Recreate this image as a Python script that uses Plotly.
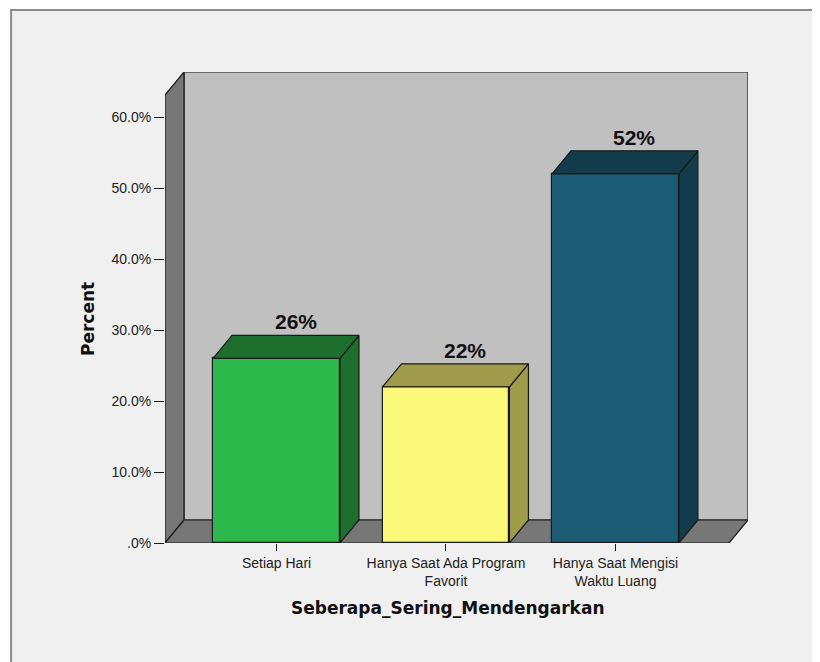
import plotly.graph_objects as go

# data
categories = ["Setiap Hari", "Hanya Saat Ada Program<br>Favorit", "Hanya Saat Mengisi<br>Waktu Luang"]
percent = [26, 22, 52]
value_labels = ["26%", "22%", "52%"]
y_tick_vals = [0, 10, 20, 30, 40, 50, 60]
y_tick_text = [".0%", "10.0%", "20.0%", "30.0%", "40.0%", "50.0%", "60.0%"]

front_colors = ["#2db84b", "#fbf87a", "#1c5d75"]
shade_colors = ["#1e6e2e", "#9f9b4a", "#123c4a"]

# 3d geometry (axis units)
X_LEFT, X_RIGHT = -0.658, 2.782
Y_TOP = 66.34
DX, DY = 0.112, 3.24
BAR_W = 0.749
EDGE = "#1a1a1a"
TITLE_FONT = dict(family="DejaVu Sans", size=17, color="#111111", weight="bold")

xs = list(range(len(categories)))


def path(pts):
    return "M " + " L ".join(f"{x},{y}" for x, y in pts) + " Z"


fig = go.Figure()

# walls and floor
wall_shapes = [
    dict(pts=[(X_LEFT + DX, DY), (X_RIGHT, DY), (X_RIGHT, Y_TOP), (X_LEFT + DX, Y_TOP)], fill="#c0c0c0"),
    dict(pts=[(X_LEFT, 0), (X_LEFT, Y_TOP - DY), (X_LEFT + DX, Y_TOP), (X_LEFT + DX, DY)], fill="#777777"),
    dict(pts=[(X_LEFT, 0), (X_RIGHT - DX, 0), (X_RIGHT, DY), (X_LEFT + DX, DY)], fill="#777777"),
]
for w in wall_shapes:
    fig.add_shape(type="path", path=path(w["pts"]), xref="x", yref="y",
                  fillcolor=w["fill"], line=dict(color=EDGE, width=1.2), layer="below")

# outer frame
fig.add_shape(type="rect", xref="paper", yref="paper", x0=-0.264, x1=1.3, y0=-0.5, y1=1.1316,
              fillcolor="#f0f0f0", line=dict(color="#8c8c8c", width=2), layer="below")

# bar sides and tops
for x, v, c in zip(xs, percent, shade_colors):
    r = x + BAR_W / 2
    l = x - BAR_W / 2
    side = [(r, 0), (r, v), (r + DX, v + DY), (r + DX, DY), (r, 0)]
    top = [(l, v), (r, v), (r + DX, v + DY), (l + DX, v + DY), (l, v)]
    for poly in (side, top):
        fig.add_trace(go.Scatter(
            x=[p[0] for p in poly], y=[p[1] for p in poly],
            mode="lines", fill="toself", fillcolor=c,
            line=dict(color=EDGE, width=1.2), hoverinfo="skip", showlegend=False,
        ))

# bar fronts
fig.add_trace(go.Bar(
    x=xs, y=percent, width=BAR_W,
    marker=dict(color=front_colors, line=dict(color=EDGE, width=1.2)),
    hoverinfo="skip", showlegend=False,
))

for x, v, t in zip(xs, percent, value_labels):
    fig.add_annotation(x=x + DX, y=v + DY, text=t, showarrow=False, yanchor="bottom", yshift=0,
                       font=dict(family="Liberation Sans", size=21, color="#111111", weight="bold"))

# axis titles, centred on the front edges like the original
fig.add_annotation(x=(X_LEFT + X_RIGHT - DX) / 2, xref="x", y=-0.138, yref="paper",
                   text="Seberapa_Sering_Mendengarkan", showarrow=False, yanchor="middle",
                   font=TITLE_FONT)
fig.add_annotation(x=-0.132, xref="paper", y=(Y_TOP - DY) / 2, yref="y",
                   text="Percent", showarrow=False, textangle=-90,
                   xanchor="center", yanchor="middle", font=TITLE_FONT)

fig.update_xaxes(
    range=[X_LEFT, X_RIGHT], tickvals=xs, ticktext=categories,
    ticks="outside", ticklen=7, tickcolor=EDGE, showgrid=False, zeroline=False, showline=False,
    tickfont=dict(family="Liberation Sans", size=14, color="#222222"),
)
fig.update_yaxes(
    range=[0, Y_TOP], tickvals=y_tick_vals, ticktext=y_tick_text,
    ticks="outside", ticklen=10, tickcolor=EDGE, showgrid=False, zeroline=False, showline=False,
    tickfont=dict(family="Liberation Sans", size=14, color="#222222"),
)
# page body adds an 8px offset, so margins are shifted to compensate
fig.update_layout(
    width=820, height=662,
    margin=dict(l=157, r=80, t=64, b=127, autoexpand=False),
    paper_bgcolor="white", plot_bgcolor="rgba(0,0,0,0)",
    bargap=0, showlegend=False,
)

fig.write_html("out.html")
